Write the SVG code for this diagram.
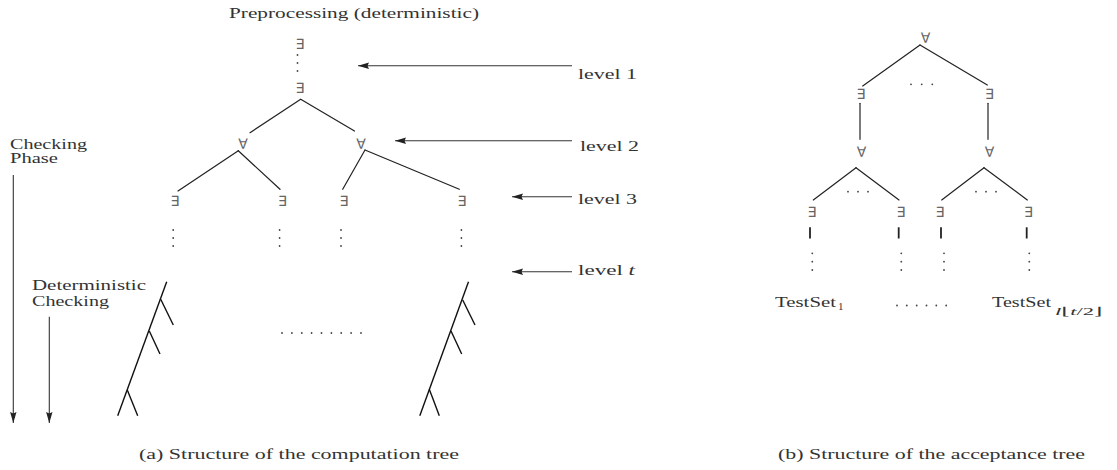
<svg xmlns="http://www.w3.org/2000/svg" width="1117" height="470" viewBox="0 0 1117 470">
  <style>
    .lbl { font-family: "Liberation Serif", "DejaVu Serif", serif; font-size: 15px; fill: #333; }
    .sub { font-family: "Liberation Serif", "DejaVu Serif", serif; font-size: 11px; fill: #333; }
    .q { font-family: "DejaVu Sans", sans-serif; font-size: 14px; fill: #666; text-anchor: middle; }
    .edge { stroke: #222; stroke-width: 1.2; fill: none; stroke-linecap: round; }
    .chain { stroke: #111; stroke-width: 1.4; fill: none; }
    .arr { stroke: #333; stroke-width: 1.1; fill: none; marker-end: url(#head); }
    .dot { fill: #444; }
    .stub { stroke: #222; stroke-width: 1.8; }
  </style>
  <defs>
    <marker id="head" markerUnits="userSpaceOnUse" markerWidth="12" markerHeight="8" refX="11" refY="3.5" orient="auto">
      <path d="M0,0.3 L11,3.5 L0,6.7 L1.5,3.5 z" fill="#222"/>
    </marker>
  </defs>
  <rect width="1117" height="470" fill="#fff"/>

  <!-- ===== (a) computation tree ===== -->
  <text class="lbl" x="229" y="18" textLength="250" lengthAdjust="spacingAndGlyphs">Preprocessing (deterministic)</text>

  <g id="phase-labels">
    <text class="lbl" x="10" y="149" textLength="77" lengthAdjust="spacingAndGlyphs">Checking</text>
    <text class="lbl" x="10" y="163" textLength="48" lengthAdjust="spacingAndGlyphs">Phase</text>
    <text class="lbl" x="32" y="290" textLength="114" lengthAdjust="spacingAndGlyphs">Deterministic</text>
    <text class="lbl" x="32" y="306" textLength="77" lengthAdjust="spacingAndGlyphs">Checking</text>
  </g>

  <g id="level-labels">
    <text class="lbl" x="578" y="79" textLength="59" lengthAdjust="spacingAndGlyphs">level 1</text>
    <text class="lbl" x="580" y="151" textLength="59" lengthAdjust="spacingAndGlyphs">level 2</text>
    <text class="lbl" x="578" y="204" textLength="59" lengthAdjust="spacingAndGlyphs">level 3</text>
    <text class="lbl" x="578" y="275" textLength="57" lengthAdjust="spacingAndGlyphs">level <tspan font-style="italic">t</tspan></text>
  </g>

  <g id="a-e-top"><text class="q" x="300" y="49">∃</text></g>
  <g id="a-e-root"><text class="q" x="300" y="92.5">∃</text></g>
  <g id="a-a-left"><text class="q" x="243" y="149">∀</text></g>
  <g id="a-a-right"><text class="q" x="361" y="149">∀</text></g>
  <g id="a-e-1"><text class="q" x="175" y="206">∃</text></g>
  <g id="a-e-2"><text class="q" x="282.5" y="206">∃</text></g>
  <g id="a-e-3"><text class="q" x="344" y="206">∃</text></g>
  <g id="a-e-4"><text class="q" x="462" y="206">∃</text></g>

  <g id="a-chain-left" class="chain">
    <line x1="166.7" y1="281.7" x2="117.7" y2="415.7"/>
    <line x1="127.3" y1="390" x2="137.7" y2="415.7"/>
    <line x1="160.7" y1="299.3" x2="173.3" y2="325"/>
    <line x1="149.3" y1="331" x2="160" y2="354"/>
  </g>
  <g id="a-chain-right" class="chain">
    <line x1="468.5" y1="281.7" x2="419.8" y2="415.7"/>
    <line x1="429.3" y1="389.3" x2="439.3" y2="415.7"/>
    <line x1="462.7" y1="300" x2="475" y2="325"/>
    <line x1="451" y1="331" x2="461.7" y2="354"/>
  </g>

  <g id="a-dots" class="dot">
    <circle cx="297.5" cy="55" r="0.9"/><circle cx="297.5" cy="63" r="0.9"/><circle cx="297.5" cy="71" r="0.9"/>
    <circle cx="173.2" cy="230" r="0.9"/><circle cx="173.2" cy="238" r="0.9"/><circle cx="173.2" cy="246" r="0.9"/>
    <circle cx="279.6" cy="230" r="0.9"/><circle cx="279.6" cy="238" r="0.9"/><circle cx="279.6" cy="246" r="0.9"/>
    <circle cx="341" cy="230" r="0.9"/><circle cx="341" cy="238" r="0.9"/><circle cx="341" cy="246" r="0.9"/>
    <circle cx="461.4" cy="230" r="0.9"/><circle cx="461.4" cy="238" r="0.9"/><circle cx="461.4" cy="246" r="0.9"/>
    <circle cx="282" cy="333" r="0.9"/><circle cx="291.9" cy="333" r="0.9"/><circle cx="301.8" cy="333" r="0.9"/>
    <circle cx="311.6" cy="333" r="0.9"/><circle cx="321.5" cy="333" r="0.9"/><circle cx="331.4" cy="333" r="0.9"/>
    <circle cx="341.2" cy="333" r="0.9"/><circle cx="351.1" cy="333" r="0.9"/><circle cx="361" cy="333" r="0.9"/>
  </g>

  <text class="lbl" x="139" y="459" textLength="320" lengthAdjust="spacingAndGlyphs">(a) Structure of the computation tree</text>

  <!-- ===== (b) acceptance tree ===== -->
  <g id="b-a-root"><text class="q" x="925.5" y="43">∀</text></g>
  <g id="b-e-left"><text class="q" x="861" y="99">∃</text></g>
  <g id="b-e-right"><text class="q" x="989.5" y="99">∃</text></g>
  <g id="b-a-left"><text class="q" x="861.5" y="156.5">∀</text></g>
  <g id="b-a-right"><text class="q" x="989.5" y="156.5">∀</text></g>
  <g id="b-e-1"><text class="q" x="812" y="216.5">∃</text></g>
  <g id="b-e-2"><text class="q" x="901" y="216.5">∃</text></g>
  <g id="b-e-3"><text class="q" x="940" y="216.5">∃</text></g>
  <g id="b-e-4"><text class="q" x="1028.5" y="216.5">∃</text></g>

  <g id="b-dots" class="dot">
    <circle cx="911" cy="84.3" r="0.9"/><circle cx="921.7" cy="84.3" r="0.9"/><circle cx="932.3" cy="84.3" r="0.9"/>
    <circle cx="848" cy="191.7" r="0.9"/><circle cx="858" cy="191.7" r="0.9"/><circle cx="868" cy="191.7" r="0.9"/>
    <circle cx="976" cy="191.7" r="0.9"/><circle cx="986" cy="191.7" r="0.9"/><circle cx="996" cy="191.7" r="0.9"/>
    <circle cx="812.3" cy="253.3" r="0.9"/><circle cx="812.3" cy="261.7" r="0.9"/><circle cx="812.3" cy="270" r="0.9"/>
    <circle cx="901.3" cy="253.3" r="0.9"/><circle cx="901.3" cy="261.7" r="0.9"/><circle cx="901.3" cy="270" r="0.9"/>
    <circle cx="944" cy="253.3" r="0.9"/><circle cx="944" cy="261.7" r="0.9"/><circle cx="944" cy="270" r="0.9"/>
    <circle cx="1029.3" cy="253.3" r="0.9"/><circle cx="1029.3" cy="261.7" r="0.9"/><circle cx="1029.3" cy="270" r="0.9"/>
    <circle cx="897" cy="305.5" r="0.9"/><circle cx="906.8" cy="305.5" r="0.9"/><circle cx="916.7" cy="305.5" r="0.9"/>
    <circle cx="926.5" cy="305.5" r="0.9"/><circle cx="936.3" cy="305.5" r="0.9"/><circle cx="946.2" cy="305.5" r="0.9"/>
  </g>

  <g id="b-testset-1">
    <text class="lbl" x="775" y="306.5" textLength="61" lengthAdjust="spacingAndGlyphs">TestSet</text>
    <text class="sub" x="838" y="310">1</text>
  </g>
  <g id="b-testset-last">
    <text class="lbl" x="992" y="306.5" textLength="59" lengthAdjust="spacingAndGlyphs">TestSet</text>
    <text class="sub" x="1055" y="315" textLength="48" lengthAdjust="spacingAndGlyphs"><tspan font-style="italic">l</tspan>⌊<tspan font-style="italic">t</tspan>/2⌋</text>
  </g>

  <text class="lbl" x="778" y="459" textLength="307" lengthAdjust="spacingAndGlyphs">(b) Structure of the acceptance tree</text>

  <!-- ===== connectors ===== -->
  <g id="connectors">
    <line class="edge" x1="300.7" y1="99.3" x2="250" y2="132.7"/>
    <line class="edge" x1="300.7" y1="99.3" x2="354.5" y2="131"/>
    <line class="edge" x1="238.3" y1="150.7" x2="178" y2="191"/>
    <line class="edge" x1="238.3" y1="150.7" x2="280" y2="189.3"/>
    <line class="edge" x1="365" y1="150" x2="342.7" y2="189.3"/>
    <line class="edge" x1="365" y1="150" x2="459.3" y2="189.3"/>

    <line class="arr" x1="572" y1="65.7" x2="358" y2="65.7"/>
    <line class="arr" x1="572" y1="140.7" x2="395" y2="140.7"/>
    <line class="arr" x1="572" y1="196.7" x2="512" y2="196.7"/>
    <line class="arr" x1="572" y1="271.7" x2="512" y2="271.7"/>
    <line class="arr" x1="13.3" y1="175" x2="13.3" y2="423" stroke="#555"/>
    <line class="arr" x1="49.3" y1="316.7" x2="49.3" y2="423"/>

    <line class="edge" x1="920" y1="45" x2="862.7" y2="86"/>
    <line class="edge" x1="920" y1="45" x2="987.3" y2="85"/>
    <line class="edge" x1="860" y1="103.3" x2="860" y2="139.3"/>
    <line class="edge" x1="988" y1="103.3" x2="988" y2="139.3"/>
    <line class="edge" x1="856" y1="167.7" x2="813.3" y2="200"/>
    <line class="edge" x1="856" y1="167.7" x2="899" y2="200"/>
    <line class="edge" x1="984" y1="167.7" x2="941.7" y2="200"/>
    <line class="edge" x1="984" y1="167.7" x2="1027.3" y2="200"/>
    <line class="stub" x1="810" y1="227.3" x2="810" y2="238.5"/>
    <line class="stub" x1="898.7" y1="227.3" x2="898.7" y2="238.5"/>
    <line class="stub" x1="941" y1="227.3" x2="941" y2="238.5"/>
    <line class="stub" x1="1026.7" y1="227.3" x2="1026.7" y2="238.5"/>
  </g>
</svg>
